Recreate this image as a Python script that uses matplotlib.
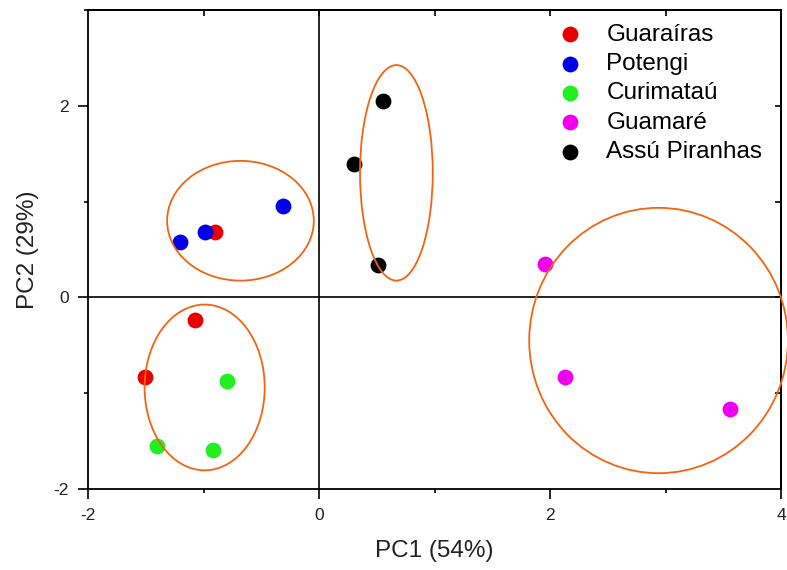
import matplotlib.pyplot as plt
from matplotlib.patches import Ellipse
from matplotlib.ticker import MultipleLocator

plt.rcParams['font.family'] = ['Liberation Sans', 'DejaVu Sans']
plt.rcParams['axes.unicode_minus'] = False

groups = ['Guaraíras', 'Potengi', 'Curimataú', 'Guamaré', 'Assú Piranhas']
colors = ['#e60000', '#0000e6', '#22ee22', '#ee00ee', '#000000']
pc1 = [
    [-0.90, -1.51, -1.07],
    [-1.20, -0.99, -0.31],
    [-0.80, -1.40, -0.92],
    [1.96, 2.13, 3.56],
    [0.55, 0.30, 0.51],
]
pc2 = [
    [0.68, -0.83, -0.24],
    [0.58, 0.68, 0.95],
    [-0.87, -1.55, -1.59],
    [0.35, -0.83, -1.17],
    [2.05, 1.39, 0.34],
]

# cluster ellipses: centre x, centre y, width, height
ell_x = [-0.68, 0.67, -0.99, 2.94]
ell_y = [0.80, 1.30, -0.94, -0.45]
ell_w = [1.27, 0.63, 1.04, 2.24]
ell_h = [1.25, 2.25, 1.73, 2.77]

fig = plt.figure(figsize=(7.87, 5.70), dpi=100)
ax = fig.add_axes([88/787, 81/570, 693/787, 479/570])

ax.axhline(0, color='black', lw=1.2, zorder=1)
ax.axvline(0, color='black', lw=1.2, zorder=1)

for g, c, xs, ys in zip(groups, colors, pc1, pc2):
    ax.scatter(xs, ys, s=130, color=c, label=g, zorder=3, linewidths=0)

for cx, cy, w, h in zip(ell_x, ell_y, ell_w, ell_h):
    ax.add_patch(Ellipse((cx, cy), w, h, fill=False, edgecolor='#f26410',
                         lw=1.3, zorder=4, clip_on=False))

ax.set_xlim(-2, 4)
ax.set_ylim(-2, 3)
ax.set_xticks([-2, 0, 2, 4])
ax.set_yticks([-2, 0, 2])
ax.xaxis.set_minor_locator(MultipleLocator(1))
ax.yaxis.set_minor_locator(MultipleLocator(1))
ax.tick_params(which='major', direction='out', length=7, width=1.2,
               labelsize=12.5, pad=7, labelcolor='#222222')
ax.tick_params(which='minor', direction='out', length=3, width=1.2)

top = ax.secondary_xaxis('top')
top.set_xticks([-1, 0, 1, 2, 3])
top.tick_params(direction='in', length=4, width=1.2, labeltop=False)
right = ax.secondary_yaxis('right')
right.set_yticks([-1, 0, 1, 2])
right.tick_params(direction='in', length=4, width=1.2, labelright=False)

for s in ax.spines.values():
    s.set_linewidth(1.3)
for s in top.spines.values():
    s.set_linewidth(1.3)
for s in right.spines.values():
    s.set_linewidth(1.3)

ax.set_xlabel('PC1 (54%)', fontsize=17.5, color='#222222', labelpad=12)
ax.set_ylabel('PC2 (29%)', fontsize=17.5, color='#222222', labelpad=10)

ax.legend(loc='upper left', bbox_to_anchor=(548/787, 556/570),
          bbox_transform=fig.transFigure, frameon=False,
          fontsize=17.5, handlelength=1.0, handletextpad=1.0,
          labelspacing=0.3, borderaxespad=0, borderpad=0.4)

fig.savefig('out.png', dpi=100)
